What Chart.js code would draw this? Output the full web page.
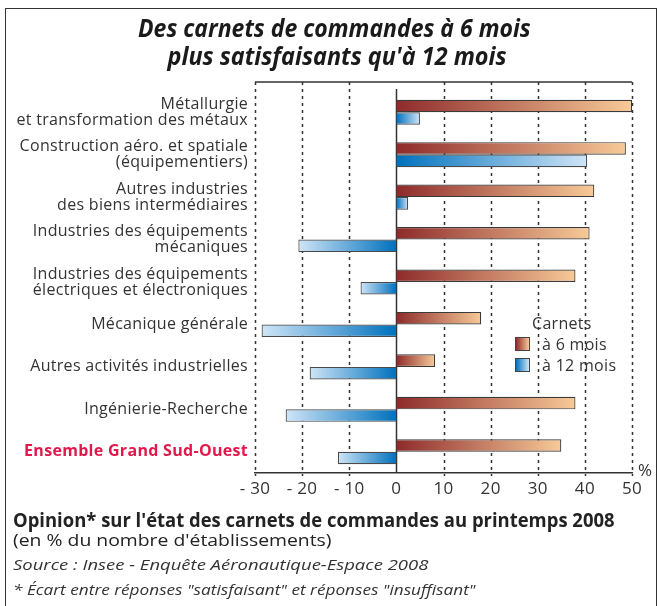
<!DOCTYPE html>
<html>
<head>
<meta charset="utf-8">
<script src="https://cdn.jsdelivr.net/npm/chart.js@4"></script>
<style>
    body { margin: 0; background: #fff; }
    #wrap { position: relative; width: 662px; height: 606px; overflow: hidden; }
    #frame { position: absolute; left: 5px; top: 8px; width: 650px; height: 620px; border: 1.5px solid #333; }
    #chart { position: absolute; left: 0; top: 0; }
    .txt { position: absolute; white-space: nowrap; color: #222; font-family: "Open Sans", sans-serif; }
    .title { font-style: italic; font-weight: bold; font-size: 25px; line-height: 28px; color: #1a1a1a; transform-origin: center top; }
    #t1 { top: 13px; }
    #t2 { top: 41px; }
    #legend { left: 515px; top: 312px; font: 16px "Open Sans", sans-serif; color: #333; letter-spacing: 0.3px; }
    #legend .head { margin-left: 17px; line-height: 22px; }
    #legend .row { height: 21px; line-height: 21px; }
    #legend .sw { display: inline-block; width: 13px; height: 12px; border: 1px solid #444; vertical-align: -1px; margin-right: 12px; }
    .foot { left: 13px; transform-origin: left top; }
    #f1 { top: 507px; font-weight: bold; font-size: 19px; }
    #f2 { top: 528px; font-size: 17px; }
    #f3 { top: 554px; font-style: italic; font-size: 15px; color: #333; }
    #f4 { top: 580px; font-style: italic; font-size: 14px; color: #333; }
</style>
</head>
<body>
<div id="wrap">
    <div id="frame"></div>
    <canvas id="chart" width="662" height="606"></canvas>
    <div class="txt title" id="t1">Des carnets de commandes à 6 mois</div>
    <div class="txt title" id="t2">plus satisfaisants qu'à 12 mois</div>
    <div class="txt" id="legend">
        <div class="head">Carnets</div>
        <div class="row"><span class="sw" style="background: linear-gradient(to right, #8e2b2b, #f7ca98);"></span>à 6 mois</div>
        <div class="row"><span class="sw" style="background: linear-gradient(to right, #0071bd, #cfe5f7);"></span>à 12 mois</div>
    </div>
    <div class="txt foot" id="f1">Opinion* sur l'état des carnets de commandes au printemps 2008</div>
    <div class="txt foot" id="f2">(en % du nombre d'établissements)</div>
    <div class="txt foot" id="f3">Source : Insee - Enquête Aéronautique-Espace 2008</div>
    <div class="txt foot" id="f4">* Écart entre réponses "satisfaisant" et réponses "insuffisant"</div>
</div>
<script>
    const categories = [
        ['Métallurgie', 'et transformation des métaux'],
        ['Construction aéro. et spatiale', '(équipementiers)'],
        ['Autres industries', 'des biens intermédiaires'],
        ['Industries des équipements', 'mécaniques'],
        ['Industries des équipements', 'électriques et électroniques'],
        'Mécanique générale',
        'Autres activités industrielles',
        'Ingénierie-Recherche',
        'Ensemble Grand Sud-Ouest'
    ];
    const carnets6mois = [50, 48.7, 42, 41, 38, 18, 8.2, 38, 35];
    const carnets12mois = [5, 40.5, 2.5, -20.8, -7.6, -28.6, -18.4, -23.5, -12.4];
    const xTicks = [-30, -20, -10, 0, 10, 20, 30, 40, 50];

    const PLOT_LEFT = 255;
    const PLOT_BOTTOM = 473;

    // squeeze the html texts to the widths they have in the original
    function fitText(id, width, centerX) {
        const el = document.getElementById(id);
        const w = el.scrollWidth;
        el.style.transform = 'scaleX(' + (width / w) + ')';
        if (centerX !== undefined) el.style.left = (centerX - w / 2) + 'px';
    }

    // gradient runs from the zero line (dark) to the end of the bar (light)
    function barGradient(context, dark, light) {
        const chart = context.chart;
        if (!chart.chartArea || context.type !== 'data') return dark;
        const xs = chart.scales.x;
        const x0 = xs.getPixelForValue(0);
        const x1 = xs.getPixelForValue(context.raw);
        if (Math.abs(x1 - x0) < 1) return dark;
        const g = chart.ctx.createLinearGradient(x0, 0, x1, 0);
        g.addColorStop(0, dark);
        g.addColorStop(1, light);
        return g;
    }

    const gridPlugin = {
        id: 'gridPlugin',
        beforeDraw(chart) {
            chart.ctx.letterSpacing = '0.3px';
        },
        beforeDatasetsDraw(chart) {
            const ctx = chart.ctx;
            const area = chart.chartArea;
            const xs = chart.scales.x;
            const top = area.top - 9;
            ctx.save();
            ctx.strokeStyle = '#333';
            ctx.lineWidth = 1.5;
            ctx.setLineDash([3, 4]);
            xTicks.forEach(v => {
                if (v === 0) return;
                const x = Math.round(xs.getPixelForValue(v)) + 0.5;
                ctx.beginPath();
                ctx.moveTo(x, top);
                ctx.lineTo(x, area.bottom + 3);
                ctx.stroke();
            });
            ctx.setLineDash([]);
            ctx.beginPath();
            ctx.moveTo(xs.getPixelForValue(-30), top);
            ctx.lineTo(xs.getPixelForValue(50), top);
            ctx.stroke();
            const x0 = Math.round(xs.getPixelForValue(0)) + 0.5;
            ctx.beginPath();
            ctx.moveTo(x0, area.top - 2);
            ctx.lineTo(x0, area.bottom);
            ctx.stroke();
            ctx.restore();
        },
        afterDraw(chart) {
            const ctx = chart.ctx;
            const area = chart.chartArea;
            ctx.save();
            ctx.fillStyle = '#333';
            ctx.font = '17px "Open Sans", sans-serif';
            ctx.textBaseline = 'middle';
            ctx.fillText('%', area.right + 6, area.bottom - 2);
            ctx.restore();
        }
    };

    new Chart(document.getElementById('chart'), {
        type: 'bar',
        data: {
            labels: categories,
            datasets: [{
                label: 'à 6 mois',
                data: carnets6mois,
                backgroundColor: c => barGradient(c, '#8e2b2b', '#f7ca98'),
                borderColor: '#3a3a3a',
                borderWidth: 1.2
            }, {
                label: 'à 12 mois',
                data: carnets12mois,
                backgroundColor: c => barGradient(c, '#0071bd', '#cfe5f7'),
                borderColor: '#4a4a4a',
                borderWidth: 1.2
            }]
        },
        options: {
            indexAxis: 'y',
            responsive: false,
            animation: false,
            categoryPercentage: 0.59,
            barPercentage: 1.0,
            layout: { padding: { top: 91, right: 30, left: 0, bottom: 0 } },
            plugins: { legend: { display: false }, tooltip: { enabled: false } },
            scales: {
                x: {
                    min: -30,
                    max: 50,
                    afterBuildTicks: scale => { scale.ticks = xTicks.map(v => ({ value: v })); },
                    afterFit: scale => { scale.height = 606 - PLOT_BOTTOM; },
                    grid: { display: false, drawTicks: false },
                    border: { display: true, color: '#333', width: 1.5 },
                    ticks: {
                        color: '#333',
                        padding: 6,
                        font: { family: 'Open Sans', size: 17 },
                        callback: v => v < 0 ? '- ' + Math.abs(v) : String(v)
                    }
                },
                y: {
                    afterFit: scale => { scale.width = PLOT_LEFT; },
                    grid: { display: false, drawTicks: false },
                    border: { display: false },
                    ticks: {
                        padding: 7,
                        color: c => c.index === 8 ? '#e2184c' : '#333',
                        font: c => c.index === 8
                            ? { family: 'Open Sans', size: 16, weight: 'bold', lineHeight: 1.0 }
                            : { family: 'Open Sans', size: 16, lineHeight: 1.0 }
                    }
                }
            }
        },
        plugins: [gridPlugin]
    });

    fitText('t1', 393, 334);
    fitText('t2', 339, 337);
    fitText('f1', 602);
    fitText('f2', 319);
    fitText('f3', 415);
    fitText('f4', 462);
</script>
</body>
</html>
